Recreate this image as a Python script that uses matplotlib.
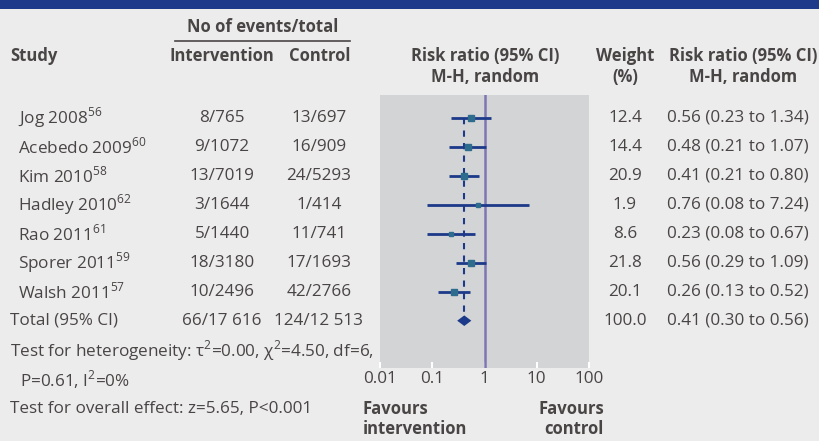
import matplotlib
matplotlib.use('Agg')
import matplotlib.pyplot as plt
import numpy as np

# datos del forest plot
estudios = ["Jog 2008", "Acebedo 2009", "Kim 2010", "Hadley 2010", "Rao 2011", "Sporer 2011", "Walsh 2011"]
refs = ["56", "60", "58", "62", "61", "59", "57"]
eventos_int = ["8/765", "9/1072", "13/7019", "3/1644", "5/1440", "18/3180", "10/2496"]
eventos_ctrl = ["13/697", "16/909", "24/5293", "1/414", "11/741", "17/1693", "42/2766"]
pesos = [12.4, 14.4, 20.9, 1.9, 8.6, 21.8, 20.1]
rr = [0.56, 0.48, 0.41, 0.76, 0.23, 0.56, 0.26]
rr_lo = [0.23, 0.21, 0.21, 0.08, 0.08, 0.29, 0.13]
rr_hi = [1.34, 1.07, 0.80, 7.24, 0.67, 1.09, 0.52]

total_int = "66/17 616"
total_ctrl = "124/12 513"
total_peso = 100.0
total_rr, total_lo, total_hi = 0.41, 0.30, 0.56

ticks = [0.01, 0.1, 1, 10, 100]
tick_labels = ["0.01", "0.1", "1", "10", "100"]

W, H = 819, 441
FUENTE = 'Open Sans'
plt.rcParams['font.family'] = [FUENTE, 'DejaVu Sans']
plt.rcParams['mathtext.fontset'] = 'custom'
plt.rcParams['mathtext.rm'] = FUENTE

TXT = '#4a4545'
AZUL = '#1d3a8a'
FS = 12.3   # texto normal
FSB = 12    # cabeceras en negrita

fig = plt.figure(figsize=(W / 100, H / 100), dpi=100)
fig.patch.set_facecolor('#ececed')

# eje "lienzo" en pixeles para todo el texto
bg = fig.add_axes([0, 0, 1, 1])
bg.set_xlim(0, W)
bg.set_ylim(H, 0)
bg.axis('off')

bg.add_patch(plt.Rectangle((0, 0), W, 8.7, color=AZUL, lw=0))

def txt(x, y, s, ha='left', bold=False, **kw):
    bg.text(x, y, s, ha=ha, va='center', fontsize=FSB if bold else FS, color=TXT,
            fontweight='bold' if bold else 'normal', **kw)

# cabeceras
txt(263, 27, "No of events/total", ha='center', bold=True)
bg.plot([175, 350], [41, 41], color=TXT, lw=1.2)
txt(10, 56, "Study", bold=True)
txt(222, 56, "Intervention", ha='center', bold=True)
txt(350, 56, "Control", ha='right', bold=True)
for (x, l1, l2) in [(485, "Risk ratio (95% CI)", "M-H, random"), (625, "Weight", "(%)"),
                    (743, "Risk ratio (95% CI)", "M-H, random")]:
    txt(x, 56, l1, ha='center', bold=True)
    txt(x, 77, l2, ha='center', bold=True)

y0, paso = 117.7, 29.0
for i in range(len(estudios)):
    y = y0 + i * paso
    txt(18, y, estudios[i] + r"$^{\mathregular{" + refs[i] + "}}$")
    txt(222, y, eventos_int[i], ha='center')
    txt(319, y, eventos_ctrl[i], ha='center')
    txt(625, y, f"{pesos[i]:.1f}", ha='center')
    txt(667, y, f"{rr[i]:.2f} ({rr_lo[i]:.2f} to {rr_hi[i]:.2f})")

yt = y0 + len(estudios) * paso
txt(10, yt, "Total (95% CI)")
txt(222, yt, total_int, ha='center')
txt(319, yt, total_ctrl, ha='center')
txt(625, yt, f"{total_peso:.1f}", ha='center')
txt(667, yt, f"{total_rr:.2f} ({total_lo:.2f} to {total_hi:.2f})")

txt(10, 351, r"Test for heterogeneity: τ$^{\mathregular{2}}$=0.00, χ$^{\mathregular{2}}$=4.50, df=6,")
txt(20, 380, r"P=0.61, I$^{\mathregular{2}}$=0%")
txt(10, 409, "Test for overall effect: z=5.65, P<0.001")
txt(363, 409, "Favours", bold=True)
txt(363, 429, "intervention", bold=True)
txt(604, 409, "Favours", ha='right', bold=True)
txt(604, 429, "control", ha='right', bold=True)

# eje del forest plot (pixeles 380-589 en x, 95-368 en y)
ax = fig.add_axes([380 / W, 1 - 368 / H, 209 / W, 273 / H])
ax.set_facecolor('#d3d4d6')
ax.set_xscale('log')
ax.set_xlim(0.01, 100)
ax.set_ylim(368, 95)
for s in ax.spines.values():
    s.set_visible(False)
ax.set_yticks([])
ax.set_xticks(ticks)
ax.set_xticklabels(tick_labels)
ax.minorticks_off()
ax.tick_params(axis='x', direction='in', length=4, width=1.5, color='white', labelcolor=TXT,
               labelsize=FS, pad=2)

ax.axvline(1, color='#7d76b3', lw=1.8, zorder=2)
ys = [y0 + i * paso for i in range(len(estudios))]
ax.plot([total_rr, total_rr], [ys[0], yt], color=AZUL, lw=1.5, ls=(0, (3, 3)), zorder=3)
for i in range(len(estudios)):
    ax.plot([rr_lo[i], rr_hi[i]], [ys[i], ys[i]], color=AZUL, lw=2, zorder=4, solid_capstyle='butt')
    lado = (3.5 + 0.13 * pesos[i]) * 0.72
    ax.plot(rr[i], ys[i], marker='s', ms=lado, color='#2d6c8c', mec='#2d6c8c', zorder=5)

ax.fill([total_lo, total_rr, total_hi, total_rr], [yt, yt - 5.3, yt, yt + 5.3], color=AZUL, lw=0, zorder=5)

fig.savefig("out.png", dpi=100, facecolor=fig.get_facecolor())
